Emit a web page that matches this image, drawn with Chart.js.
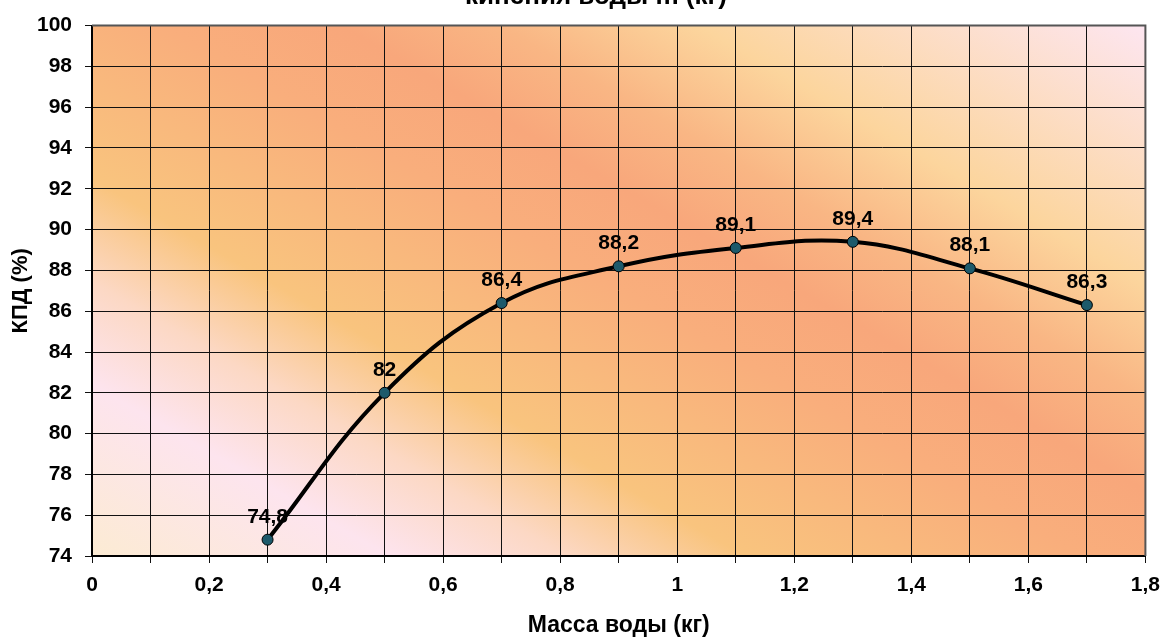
<!DOCTYPE html>
<html>
<head>
<meta charset="utf-8">
<script src="https://cdn.jsdelivr.net/npm/chart.js@4/dist/chart.umd.min.js"></script>
<style>
  body { margin: 0; background: #fff; }
  #box { width: 1170px; height: 637px; }
</style>
</head>
<body>
<div id="box"><canvas id="grafik" width="1170" height="637"></canvas></div>
<script>
// данные
var massa = [0.3, 0.5, 0.7, 0.9, 1.1, 1.3, 1.5, 1.7];
var kpd = [74.8, 82, 86.4, 88.2, 89.1, 89.4, 88.1, 86.3];
var xMin = 0, xMax = 1.8, xStep = 0.1;
var yMin = 74, yMax = 100, yStep = 2;
var titleText = 'кипения воды m (кг)';

function fmt(v) {
  return String(Math.round(v * 10) / 10).replace('.', ',');
}

var font = 'Arial, "Liberation Sans", sans-serif';

// фон области построения
var fon = {
  id: 'fon',
  beforeDraw: function(chart) {
    var a = chart.chartArea, c = chart.ctx;
    var x0 = a.left, y0 = a.bottom;
    var g = c.createLinearGradient(x0, y0, x0 + 495, y0 - 857);
    g.addColorStop(0, '#fcebd3');
    g.addColorStop(0.15, '#fde4ee');
    g.addColorStop(0.24, '#fcd8c4');
    g.addColorStop(0.33, '#f9c47e');
    g.addColorStop(0.50, '#f9ae7c');
    g.addColorStop(0.59, '#f8a77b');
    g.addColorStop(0.67, '#f9b684');
    g.addColorStop(0.77, '#fcd59d');
    g.addColorStop(1, '#fde6f2');
    c.save();
    c.fillStyle = g;
    c.fillRect(a.left, a.top, a.right - a.left, a.bottom - a.top);
    c.restore();
  },
  beforeDatasetsDraw: function(chart) {
    var a = chart.chartArea, c = chart.ctx;
    c.save();
    c.strokeStyle = '#555';
    c.lineWidth = 2;
    c.beginPath();
    c.moveTo(a.left, a.top);
    c.lineTo(a.right, a.top);
    c.lineTo(a.right, a.bottom);
    c.stroke();
    c.restore();
  },
  afterDraw: function(chart) {
    var c = chart.ctx;
    c.save();
    c.font = 'bold 26px ' + font;
    c.fillStyle = '#000';
    c.textAlign = 'center';
    c.textBaseline = 'alphabetic';
    c.fillText(titleText, 596, 4);
    c.restore();
  }
};

// подписи значений
var podpisi = {
  id: 'podpisi',
  afterDatasetsDraw: function(chart) {
    var c = chart.ctx;
    var meta = chart.getDatasetMeta(0);
    c.save();
    c.font = 'bold 21px ' + font;
    c.fillStyle = '#000';
    c.textAlign = 'center';
    c.textBaseline = 'alphabetic';
    meta.data.forEach(function(p, i) {
      c.fillText(fmt(kpd[i]), p.x, p.y - 17);
    });
    c.restore();
  }
};

var ctx = document.getElementById('grafik').getContext('2d');
var grafik = new Chart(ctx, {
  type: 'line',
  data: {
    datasets: [{
      label: 'КПД',
      data: massa.map(function(m, i) { return { x: m, y: kpd[i] }; }),
      borderColor: '#000',
      borderWidth: 4,
      tension: 0.4,
      pointRadius: 5.5,
      pointBackgroundColor: '#1d5a6b',
      pointBorderColor: '#000',
      pointBorderWidth: 1,
      fill: false
    }]
  },
  options: {
    responsive: false,
    animation: false,
    events: [],
    layout: { padding: { top: 23, right: 20, left: 0, bottom: 0 } },
    plugins: {
      legend: { display: false },
      tooltip: { enabled: false }
    },
    scales: {
      x: {
        type: 'linear',
        min: xMin,
        max: xMax,
        afterFit: function(s) { s.height = 81; },
        ticks: {
          stepSize: xStep,
          autoSkip: false,
          maxRotation: 0,
          padding: 10,
          color: '#000',
          font: { family: font, size: 21, weight: 'bold' },
          callback: function(v) {
            var k = Math.round(v * 10);
            return k % 2 === 0 ? fmt(v) : '';
          }
        },
        grid: { color: '#111', lineWidth: 1, tickLength: 7 },
        border: { color: '#000', width: 2 },
        title: {
          display: true,
          text: 'Масса воды (кг)',
          color: '#000',
          padding: { top: 0, bottom: 0 },
          font: { family: font, size: 23, weight: 'bold', lineHeight: 1 }
        }
      },
      y: {
        min: yMin,
        max: yMax,
        afterFit: function(s) { s.width = 92; },
        ticks: {
          stepSize: yStep,
          padding: 13,
          color: '#000',
          font: { family: font, size: 21, weight: 'bold' },
          callback: function(v) { return fmt(v); }
        },
        grid: { color: '#111', lineWidth: 1, tickLength: 7 },
        border: { color: '#000', width: 2 },
        title: {
          display: true,
          text: 'КПД (%)',
          color: '#000',
          padding: { top: 8, bottom: 0 },
          font: { family: font, size: 22, weight: 'bold' }
        }
      }
    }
  },
  plugins: [fon, podpisi]
});
</script>
</body>
</html>
